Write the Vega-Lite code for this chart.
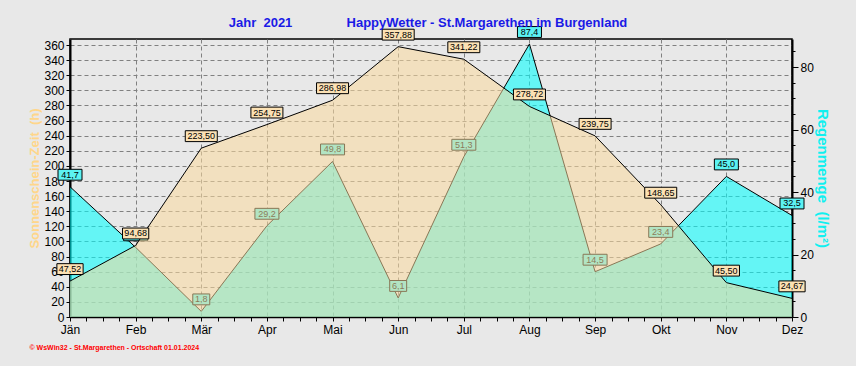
{
  "$schema": "https://vega.github.io/schema/vega-lite/v6.json",
  "width": 722,
  "height": 278,
  "autosize": {"type": "none"},
  "padding": {"left": 70, "top": 39, "right": 64, "bottom": 49},
  "background": "#E8E8E8",
  "config": {"view": {"stroke": "#000000", "strokeWidth": 1.5}, "font": "Liberation Sans"},
  "title": {
    "text": "Jahr\u00a0\u00a02021\u00a0\u00a0\u00a0\u00a0\u00a0\u00a0\u00a0\u00a0\u00a0\u00a0\u00a0\u00a0\u00a0\u00a0\u00a0HappyWetter - St.Margarethen im Burgenland",
    "color": "#1A1AE6",
    "fontSize": 13,
    "fontWeight": "bold",
    "font": "Liberation Sans",
    "anchor": "middle",
    "frame": "group",
    "baseline": "alphabetic",
    "offset": 11,
    "dx": -3,
    "dy": 26
  },
  "data": {
    "values": [
      {"m": 1, "month": "Jän", "sun": 47.52, "rain": 41.7, "sl": "47,52", "rl": "41,7"},
      {"m": 2, "month": "Feb", "sun": 94.68, "rain": 22.3, "sl": "94,68", "rl": "22,3"},
      {"m": 3, "month": "Mär", "sun": 223.5, "rain": 1.8, "sl": "223,50", "rl": "1,8"},
      {"m": 4, "month": "Apr", "sun": 254.75, "rain": 29.2, "sl": "254,75", "rl": "29,2"},
      {"m": 5, "month": "Mai", "sun": 286.98, "rain": 49.8, "sl": "286,98", "rl": "49,8"},
      {"m": 6, "month": "Jun", "sun": 357.88, "rain": 6.1, "sl": "357,88", "rl": "6,1"},
      {"m": 7, "month": "Jul", "sun": 341.22, "rain": 51.3, "sl": "341,22", "rl": "51,3"},
      {"m": 8, "month": "Aug", "sun": 278.72, "rain": 87.4, "sl": "278,72", "rl": "87,4"},
      {"m": 9, "month": "Sep", "sun": 239.75, "rain": 14.5, "sl": "239,75", "rl": "14,5"},
      {"m": 10, "month": "Okt", "sun": 148.65, "rain": 23.4, "sl": "148,65", "rl": "23,4"},
      {"m": 11, "month": "Nov", "sun": 45.5, "rain": 45.0, "sl": "45,50", "rl": "45,0"},
      {"m": 12, "month": "Dez", "sun": 24.67, "rain": 32.5, "sl": "24,67", "rl": "32,5"}
    ]
  },
  "encoding": {
    "x": {
      "field": "m",
      "type": "quantitative",
      "scale": {"domain": [1, 12], "nice": false, "zero": false},
      "axis": {
        "values": [1,1.25,1.5,1.75,2,2.25,2.5,2.75,3,3.25,3.5,3.75,4,4.25,4.5,4.75,5,5.25,5.5,5.75,6,6.25,6.5,6.75,7,7.25,7.5,7.75,8,8.25,8.5,8.75,9,9.25,9.5,9.75,10,10.25,10.5,10.75,11,11.25,11.5,11.75,12],
        "labelExpr": "datum.value % 1 === 0 ? ['Jän','Feb','Mär','Apr','Mai','Jun','Jul','Aug','Sep','Okt','Nov','Dez'][datum.value - 1] : ''",
        "labelOverlap": false,
        "labelFlush": false,
        "labelFontSize": 12,
        "labelColor": "#000000",
        "labelPadding": 3,
        "tickSize": 4,
        "tickColor": "#000000",
        "domainColor": "#000000",
        "domainWidth": 1.5,
        "grid": true,
        "gridColor": "#808080",
        "gridDash": [4, 3],
        "gridOpacity": {"condition": {"test": "datum.value % 1 === 0", "value": 1}, "value": 0},
        "title": "© WsWin32  -  St.Margarethen - Ortschaft  01.01.2024",
        "titleColor": "#FF0000",
        "titleFontSize": 7,
        "titleFontWeight": "bold",
        "titleAnchor": "start",
        "titleAlign": "left",
        "titleBaseline": "middle",
        "titleX": -41,
        "titleY": 30
      }
    }
  },
  "layer": [
    {
      "encoding": {
        "y": {
          "field": "rain",
          "type": "quantitative",
          "scale": {"domain": [0, 89], "nice": false},
          "axis": {
            "orient": "right",
            "values": [0,5,10,15,20,25,30,35,40,45,50,55,60,65,70,75,80,85],
            "labelExpr": "datum.value % 20 === 0 ? datum.label : ''",
            "labelOverlap": false,
            "labelFlush": false,
            "labelFontSize": 12,
            "labelColor": "#000000",
            "labelPadding": 2,
            "tickSize": {"condition": {"test": "datum.value % 20 === 0", "value": 6}, "value": 3},
            "tickColor": "#000000",
            "domainColor": "#000000",
            "domainWidth": 2,
            "grid": false,
            "title": "Regenmenge\u00a0\u00a0(l/m²)",
            "titleColor": "#10F0F0",
            "titleFontSize": 15,
            "titleFontWeight": "bold",
            "titleAngle": 90,
            "titlePadding": 1
          }
        }
      },
      "layer": [
        {"mark": {"type": "area", "color": "#00FFFF", "opacity": 0.57}},
        {"mark": {"type": "line", "color": "#000000", "strokeWidth": 1}},
        {
          "mark": {"type": "point", "filled": true, "fill": "#5CF2F2", "stroke": "#000000", "strokeWidth": 1, "size": 1024, "opacity": 1, "yOffset": -12},
          "encoding": {
            "shape": {
              "condition": {"test": "datum.rain >= 10", "value": "M-0.75,-0.34L0.75,-0.34L0.75,0.34L-0.75,0.34Z"},
              "value": "M-0.53,-0.34L0.53,-0.34L0.53,0.34L-0.53,0.34Z"
            }
          }
        },
        {
          "mark": {"type": "text", "dy": -12, "fontSize": 9, "color": "#000000", "font": "Liberation Sans"},
          "encoding": {"text": {"field": "rl"}}
        }
      ]
    },
    {
      "encoding": {
        "y": {
          "field": "sun",
          "type": "quantitative",
          "scale": {"domain": [0, 368], "nice": false},
          "axis": {
            "orient": "left",
            "values": [0,20,40,60,80,100,120,140,160,180,200,220,240,260,280,300,320,340,360],
            "labelOverlap": false,
            "labelFlush": false,
            "labelFontSize": 12,
            "labelColor": "#000000",
            "labelPadding": 2,
            "tickSize": 4,
            "tickColor": "#000000",
            "domainColor": "#000000",
            "domainWidth": 2,
            "grid": true,
            "gridColor": "#808080",
            "gridDash": [4, 3],
            "title": "Sonnenschein-Zeit\u00a0\u00a0(h)",
            "titleColor": "#FFD68A",
            "titleFontSize": 13,
            "titleFontWeight": "bold",
            "titlePadding": 2
          }
        }
      },
      "layer": [
        {"mark": {"type": "area", "color": "#FAD99C", "opacity": 0.55}},
        {"mark": {"type": "line", "color": "#000000", "strokeWidth": 1}},
        {
          "mark": {"type": "point", "filled": true, "fill": "#FBE1B4", "stroke": "#000000", "strokeWidth": 1, "size": 1024, "opacity": 1, "yOffset": -12},
          "encoding": {
            "shape": {
              "condition": {"test": "datum.sun >= 100", "value": "M-1,-0.34L1,-0.34L1,0.34L-1,0.34Z"},
              "value": "M-0.82,-0.34L0.82,-0.34L0.82,0.34L-0.82,0.34Z"
            }
          }
        },
        {
          "mark": {"type": "text", "dy": -12, "fontSize": 9, "color": "#000000", "font": "Liberation Sans"},
          "encoding": {"text": {"field": "sl"}}
        }
      ]
    }
  ],
  "resolve": {"scale": {"y": "independent"}, "axis": {"y": "independent"}}
}
